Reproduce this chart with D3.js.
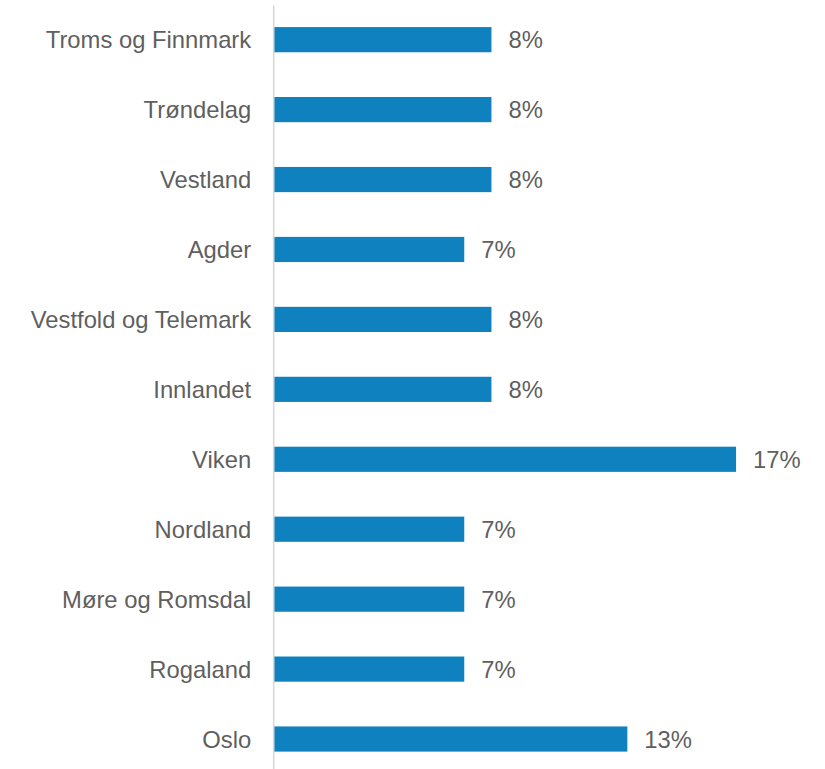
<!DOCTYPE html>
<html>
<head>
<meta charset="utf-8">
<script src="https://cdn.jsdelivr.net/npm/d3@7"></script>
<style>
  html, body { margin: 0; padding: 0; background: #ffffff; }
  svg { display: block; }
</style>
</head>
<body>
<svg id="chart" width="825" height="769"></svg>
<script>
const categories = ["Troms og Finnmark", "Trøndelag", "Vestland", "Agder", "Vestfold og Telemark", "Innlandet", "Viken", "Nordland", "Møre og Romsdal", "Rogaland", "Oslo"];
const values = [8, 8, 8, 7, 8, 8, 17, 7, 7, 7, 13];
const valueLabels = ["8%", "8%", "8%", "7%", "8%", "8%", "17%", "7%", "7%", "7%", "13%"];

const svg = d3.select("#chart");
const fontFamily = "'Liberation Sans', Arial, sans-serif";
const textColor = "#5f5f5f";
const barColor = "#1081BF";

const x = d3.scaleLinear().domain([0, 20]).range([274, 817.6]);
const y = d3.scaleBand().domain(categories).range([4.7, 774.0]).paddingInner(0.64).paddingOuter(0.32);

const data = categories.map((c, i) => ({ cat: c, v: values[i], lbl: valueLabels[i] }));

svg.selectAll("rect.bar")
  .data(data)
  .enter().append("rect")
  .attr("class", "bar")
  .attr("x", x(0))
  .attr("y", d => y(d.cat))
  .attr("width", d => x(d.v) - x(0))
  .attr("height", y.bandwidth())
  .attr("fill", barColor);

const axis = svg.append("g")
  .attr("transform", "translate(273.2,0)")
  .call(d3.axisLeft(y).tickSize(0).tickSizeOuter(0).tickPadding(22));
axis.select(".domain").attr("stroke", "#d9d9d9").attr("stroke-width", 1.6);
axis.selectAll(".tick text")
  .attr("fill", textColor)
  .attr("font-family", fontFamily)
  .attr("font-size", "23.8px")
  .attr("dy", "0.36em");

svg.selectAll("text.val")
  .data(data)
  .enter().append("text")
  .attr("class", "val")
  .attr("x", d => x(d.v) + 17)
  .attr("y", d => y(d.cat) + y.bandwidth() / 2)
  .attr("dy", "0.36em")
  .attr("fill", textColor)
  .attr("font-family", fontFamily)
  .attr("font-size", "23.8px")
  .text(d => d.lbl);
</script>
</body>
</html>
